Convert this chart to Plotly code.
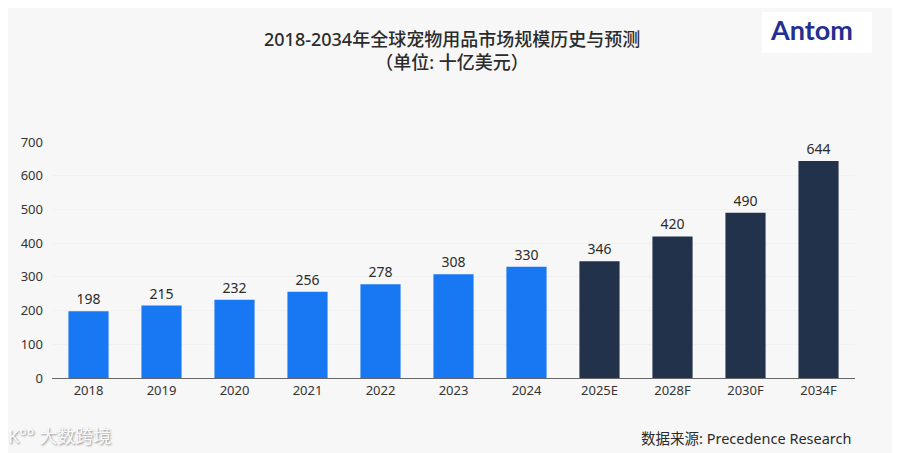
import plotly.graph_objects as go

# data
years = ["2018", "2019", "2020", "2021", "2022", "2023", "2024", "2025E", "2028F", "2030F", "2034F"]
market = [198, 215, 232, 256, 278, 308, 330, 346, 420, 490, 644]
is_forecast = [False] * 7 + [True] * 4

blue = "#1877f2"
navy = "#22324a"
bg = "#f7f7f7"
colors = [navy if f else blue for f in is_forecast]

# page has an 8px body margin, so the figure is drawn 8px lower/right
# helpers turn reference pixel positions into paper coords
def px_x(x):
    return (x - 52) / 803

def px_y(y):
    return (378 - y) / 236

fig = go.Figure(go.Bar(
    x=years, y=market, marker_color=colors, marker_line_width=0,
    text=market, textposition="outside", cliponaxis=False,
    textfont=dict(size=14, color="#2b2b2b"),
))

fig.update_layout(
    width=900, height=453,
    margin=dict(l=44, r=53, t=134, b=83),
    paper_bgcolor=bg, plot_bgcolor=bg,
    font=dict(family="Noto Sans, Noto Sans CJK SC", color="#333333"),
    bargap=0.45, showlegend=False,
)
fig.update_xaxes(
    showline=True, linecolor="#666666", linewidth=1,
    tickfont=dict(size=13, color="#333333"), ticks="", showgrid=False,
)
fig.update_yaxes(
    range=[0, 700], dtick=100, showline=False, zeroline=False,
    showgrid=True, gridcolor="#f1f1f1", gridwidth=1,
    tickfont=dict(size=13, color="#333333"), ticklabelstandoff=8,
)

# title (two lines)
fig.add_annotation(text="2018-2034年全球宠物用品市场规模历史与预测<br>（单位: 十亿美元）",
                   xref="paper", yref="paper", x=px_x(452), xanchor="center",
                   y=px_y(51), yanchor="middle", showarrow=False,
                   font=dict(size=18, color="#2b2b2b", family="Noto Sans, Noto Sans CJK SC", weight=500))

# logo box
fig.add_shape(type="rect", xref="paper", yref="paper",
              x0=px_x(762), x1=px_x(872), y0=px_y(53), y1=px_y(12),
              fillcolor="white", line_width=0, layer="below")
fig.add_annotation(text="<b>Antom</b>", xref="paper", yref="paper",
                   x=px_x(811), xanchor="center", y=px_y(30), yanchor="middle", showarrow=False,
                   font=dict(size=27, color="#24308f", family="Lato"))

# source
fig.add_annotation(text="数据来源: Precedence Research", xref="paper", yref="paper",
                   x=px_x(853), xanchor="right", y=px_y(438), yanchor="middle", showarrow=False,
                   font=dict(size=14.5, color="#2b2b2b"))

# watermark
fig.add_annotation(text="K°° 大数跨境", xref="paper", yref="paper",
                   x=px_x(6), xanchor="left", y=px_y(436), yanchor="middle", showarrow=False,
                   font=dict(size=18, color="rgba(255,255,255,0.95)", shadow="1px 1px 2px #888"))

fig.write_html("out.html")
